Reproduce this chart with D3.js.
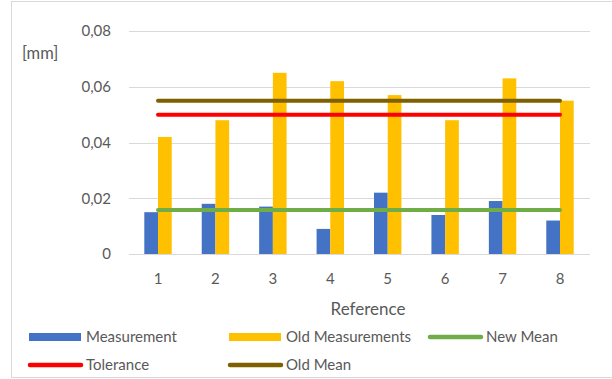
<!DOCTYPE html>
<html>
<head>
<meta charset="utf-8">
<script src="https://cdn.jsdelivr.net/npm/d3@7/dist/d3.min.js"></script>
<style>
  html, body { margin: 0; padding: 0; background: #fff; }
  svg text { font-family: Lato, "Open Sans", sans-serif; fill: #595959; }
</style>
</head>
<body>
<svg id="chart" width="612" height="379"></svg>
<script>
// Reference numbers along the x axis
const categories = ["1", "2", "3", "4", "5", "6", "7", "8"];
// New measurements per reference [mm]
const measurement = [0.015, 0.018, 0.017, 0.009, 0.022, 0.014, 0.019, 0.012];
// Previous measurements per reference [mm]
const oldMeasurements = [0.042, 0.048, 0.065, 0.062, 0.057, 0.048, 0.063, 0.055];
// Horizontal reference levels [mm]
const newMean = 0.0158;
const tolerance = 0.05;
const oldMean = 0.055;
// Y axis ticks and their labels
const yTicks = [0, 0.02, 0.04, 0.06, 0.08];
const yTickLabels = ["0", "0,02", "0,04", "0,06", "0,08"];

const colors = {
  measurement: "#4472C4",
  old: "#FFC000",
  newMean: "#70AD47",
  tolerance: "#FF0000",
  oldMean: "#7F6000"
};

const svg = d3.select("#chart");

// Chart frame
svg.append("rect")
  .attr("x", 11.5).attr("y", 1.5)
  .attr("width", 620).attr("height", 376)
  .attr("fill", "#fff").attr("stroke", "#d9d9d9").attr("stroke-width", 1);

const x = d3.scaleBand().domain(categories).range([129.3, 588.7]).padding(0);
const y = d3.scaleLinear().domain([0, 0.08]).range([254, 31]);
const barW = x.bandwidth() / 4.19;

// Horizontal gridlines
svg.append("g").selectAll("line").data(yTicks).join("line")
  .attr("x1", 129).attr("x2", 590)
  .attr("y1", d => Math.round(y(d)) + 0.5).attr("y2", d => Math.round(y(d)) + 0.5)
  .attr("stroke", "#d9d9d9").attr("stroke-width", 1);

// Y tick labels
svg.append("g").selectAll("text").data(yTicks).join("text")
  .attr("x", 111).attr("y", d => y(d))
  .attr("dy", "0.35em")
  .attr("text-anchor", "end")
  .attr("font-size", 15)
  .text((d, i) => yTickLabels[i]);

// Y unit label
svg.append("text").attr("x", 22).attr("y", 53).attr("dy", "0.35em")
  .attr("font-size", 16.5).text("[mm]");

// Bars
const bars = svg.append("g");
bars.selectAll(".m").data(categories).join("rect")
  .attr("class", "m")
  .attr("x", d => x(d) + x.bandwidth() / 2 - barW)
  .attr("y", (d, i) => y(measurement[i]))
  .attr("width", barW)
  .attr("height", (d, i) => y(0) - y(measurement[i]))
  .attr("fill", colors.measurement);
bars.selectAll(".o").data(categories).join("rect")
  .attr("class", "o")
  .attr("x", d => x(d) + x.bandwidth() / 2)
  .attr("y", (d, i) => y(oldMeasurements[i]))
  .attr("width", barW)
  .attr("height", (d, i) => y(0) - y(oldMeasurements[i]))
  .attr("fill", colors.old);

// Level lines spanning first to last reference
const levels = [
  { v: oldMean, c: colors.oldMean },
  { v: tolerance, c: colors.tolerance },
  { v: newMean, c: colors.newMean }
];
const xFirst = x(categories[0]) + x.bandwidth() / 2;
const xLast = x(categories[categories.length - 1]) + x.bandwidth() / 2;
svg.append("g").selectAll("line").data(levels).join("line")
  .attr("x1", xFirst).attr("x2", xLast)
  .attr("y1", d => y(d.v)).attr("y2", d => y(d.v))
  .attr("stroke", d => d.c).attr("stroke-width", 4)
  .attr("stroke-linecap", "round");

// X tick labels
svg.append("g").selectAll("text").data(categories).join("text")
  .attr("x", d => x(d) + x.bandwidth() / 2)
  .attr("y", 279).attr("dy", "0.35em")
  .attr("text-anchor", "middle")
  .attr("font-size", 15)
  .text(d => d);

// X axis title
svg.append("text").attr("x", 368).attr("y", 309).attr("dy", "0.35em")
  .attr("text-anchor", "middle").attr("font-size", 17).text("Reference");

// Legend
const legendItems = [
  { name: "Measurement", type: "rect", c: colors.measurement, x: 29, y: 337 },
  { name: "Old Measurements", type: "rect", c: colors.old, x: 229, y: 337 },
  { name: "New Mean", type: "line", c: colors.newMean, x: 429, y: 337 },
  { name: "Tolerance", type: "line", c: colors.tolerance, x: 29, y: 365 },
  { name: "Old Mean", type: "line", c: colors.oldMean, x: 229, y: 365 }
];
const lg = svg.append("g").selectAll("g").data(legendItems).join("g");
lg.filter(d => d.type === "rect").append("rect")
  .attr("x", d => d.x).attr("y", d => d.y - 4)
  .attr("width", 52).attr("height", 8).attr("fill", d => d.c);
lg.filter(d => d.type === "line").append("line")
  .attr("x1", d => d.x + 1).attr("x2", d => d.x + 52)
  .attr("y1", d => d.y).attr("y2", d => d.y)
  .attr("stroke", d => d.c).attr("stroke-width", 4.5)
  .attr("stroke-linecap", "round");
lg.append("text")
  .attr("x", d => d.x + 57).attr("y", d => d.y).attr("dy", "0.35em")
  .attr("font-size", 15)
  .text(d => d.name);
</script>
</body>
</html>
